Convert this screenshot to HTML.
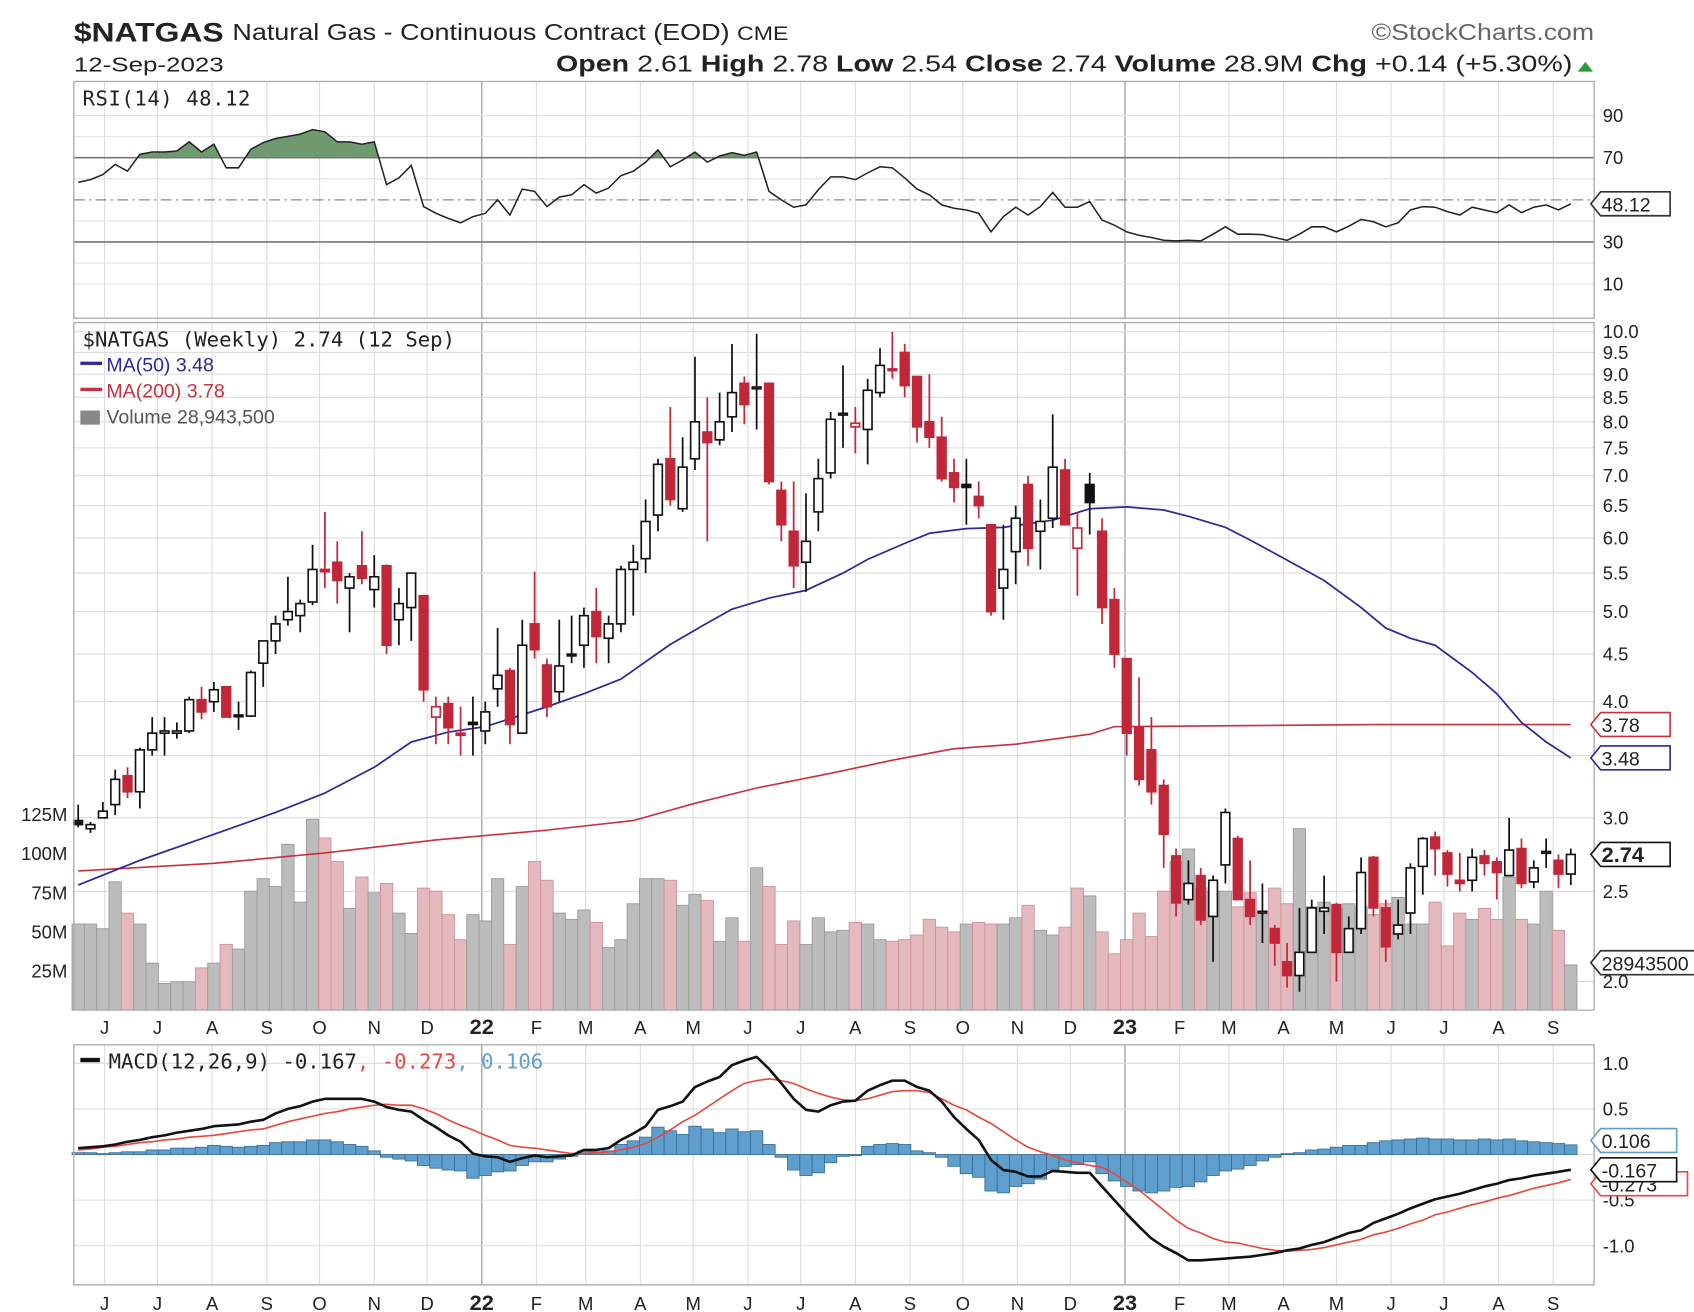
<!DOCTYPE html>
<html><head><meta charset="utf-8"><title>$NATGAS chart</title>
<style>
html,body{margin:0;padding:0;background:#fff;}
svg{display:block;font-family:"Liberation Sans",Arial,sans-serif;}
</style></head>
<body>
<svg id="chart" width="1694" height="1312" viewBox="0 0 1560 1208" preserveAspectRatio="none" xmlns="http://www.w3.org/2000/svg">
  <rect x="0" y="0" width="1560" height="1208" fill="#fff"/>
  <g>
    <text x="68" y="38" font-size="25" font-weight="bold" fill="#222" textLength="138" lengthAdjust="spacingAndGlyphs">$NATGAS</text>
    <text x="214" y="37" font-size="21" fill="#222" textLength="512" lengthAdjust="spacingAndGlyphs">Natural Gas - Continuous Contract (EOD) <tspan font-size="18">CME</tspan></text>
    <text x="1263" y="37" font-size="21" fill="#666" textLength="205" lengthAdjust="spacingAndGlyphs">©StockCharts.com</text>
    <text x="68" y="66" font-size="19" fill="#222" textLength="138" lengthAdjust="spacingAndGlyphs">12-Sep-2023</text>
    <text x="512" y="66" font-size="21" fill="#222" textLength="936" lengthAdjust="spacingAndGlyphs"><tspan font-weight="bold">Open</tspan> 2.61 <tspan font-weight="bold">High</tspan> 2.78 <tspan font-weight="bold">Low</tspan> 2.54 <tspan font-weight="bold">Close</tspan> 2.74 <tspan font-weight="bold">Volume</tspan> 28.9M <tspan font-weight="bold">Chg</tspan> +0.14 (+5.30%)</text>
    <polygon points="1453,66 1467,66 1460,57" fill="#2a9a3a"/>
  </g>
  <g id="grid"></g>
  <g id="rsiG"></g>
  <g id="volG"></g>
  <g id="maG"></g>
  <g id="candleG"></g>
  <g id="macdG"></g>
  <g id="frames"></g>
  <g id="labels"></g>
</svg>
<script>
// ---------- data ----------
const opens=[2.98,2.92,3.0,3.1,3.33,3.2,3.55,3.7,3.7,3.72,4.02,4.0,4.15,3.87,3.86,4.4,4.65,4.9,4.95,5.12,5.55,5.65,5.3,5.6,5.28,5.6,4.9,5.05,5.2,3.85,3.98,3.7,3.8,3.72,
4.13,4.32,3.7,4.85,4.38,4.1,4.5,4.6,5.0,4.68,4.85,5.55,5.7,6.35,7.3,6.45,7.3,7.8,7.65,8.1,8.8,8.7,8.8,6.75,6.1,5.65,6.4,7.05,8.15,7.9,7.85,8.6,
9.12,9.5,8.95,8.0,7.7,7.05,6.85,6.65,6.2,5.3,5.8,6.85,6.1,6.3,7.1,5.85,6.85,6.1,5.15,4.45,3.75,3.55,3.25,2.73,2.45,2.6,2.35,2.67,2.85,2.45,2.38,2.28,2.1,
2.03,2.15,2.38,2.42,2.15,2.28,2.72,2.4,2.25,2.37,2.66,2.86,2.75,2.57,2.57,2.73,2.69,2.6,2.78,2.56,2.75,2.7,2.61];
const highs=[3.1,2.97,3.12,3.38,3.4,3.57,3.85,3.85,3.8,4.05,4.15,4.2,4.15,4.0,4.32,4.65,4.95,5.45,5.15,5.9,6.4,5.95,5.5,6.1,5.75,5.62,5.3,5.5,5.2,4.05,4.05,3.95,4.05,4.0,
4.8,4.35,4.9,5.52,4.45,4.9,4.95,5.05,5.3,4.95,5.6,5.9,6.6,7.3,8.3,7.7,9.4,8.5,8.6,9.7,8.95,9.95,8.8,6.9,6.9,6.7,7.3,8.2,9.2,8.3,8.9,9.6,
10.0,9.7,8.95,9.0,8.1,7.3,7.3,6.9,6.2,6.2,6.5,7.0,6.6,8.15,7.3,6.4,7.05,6.3,5.3,4.45,4.25,3.85,3.3,2.78,2.7,2.65,2.6,3.07,2.87,2.7,2.55,2.3,2.2,
2.4,2.45,2.6,2.43,2.35,2.72,2.73,2.45,2.45,2.68,2.86,2.9,2.77,2.75,2.78,2.77,2.72,3.0,2.85,2.7,2.85,2.74,2.78];
const lows=[2.93,2.89,3.0,3.02,3.15,3.07,3.5,3.5,3.65,3.7,3.83,3.9,3.85,3.73,3.85,4.15,4.5,4.83,4.75,5.08,5.3,5.1,4.75,5.35,5.05,4.5,4.6,4.65,4.0,3.6,3.6,3.5,3.5,3.6,
3.95,3.6,3.7,4.45,3.85,4.0,4.4,4.35,4.4,4.4,4.75,4.95,5.5,6.1,6.5,6.4,7.1,5.95,7.55,7.8,7.95,7.85,6.85,5.95,5.3,5.25,6.1,6.95,7.5,7.4,7.2,8.5,
8.9,8.5,7.6,7.5,6.9,6.55,6.2,6.3,4.95,4.9,5.35,5.6,5.55,6.15,6.2,5.2,6.05,4.85,4.35,3.5,3.25,3.1,2.65,2.35,2.42,2.3,2.1,2.55,2.45,2.3,2.2,2.08,1.97,
1.95,2.15,2.25,2.0,2.15,2.25,2.35,2.1,2.22,2.25,2.48,2.6,2.53,2.5,2.5,2.6,2.45,2.6,2.52,2.52,2.65,2.52,2.54];
const closes=[2.95,2.95,3.05,3.3,3.2,3.55,3.7,3.72,3.72,4.02,3.9,4.12,3.85,3.86,4.3,4.65,4.85,5.0,5.1,5.55,5.52,5.4,5.45,5.43,5.45,4.6,5.1,5.5,4.12,3.95,3.75,3.68,3.78,3.9,
4.27,3.78,4.6,4.55,3.95,4.37,4.48,4.95,4.7,4.85,5.55,5.65,6.25,7.2,6.6,7.15,8.0,7.6,8.0,8.6,8.35,8.72,6.9,6.2,5.6,5.95,6.95,8.05,8.17,7.97,8.65,9.2,
9.1,8.75,7.9,7.7,6.95,6.8,6.8,6.5,5.0,5.55,6.3,5.85,6.25,7.15,6.2,6.15,6.55,5.05,4.5,3.7,3.3,3.2,2.88,2.43,2.55,2.33,2.57,3.04,2.45,2.35,2.38,2.2,2.03,
2.15,2.4,2.4,2.15,2.28,2.62,2.4,2.18,2.3,2.65,2.85,2.78,2.61,2.55,2.72,2.68,2.62,2.77,2.55,2.65,2.76,2.61,2.74];
const volumes=[55,55,52,82,62,55,30,17,18,18,27,30,42,39,76,84,79,106,69,122,110,95,65,85,75,81,62,49,78,76,61,45,61,57,
84,42,79,95,83,62,58,64,56,40,45,68,84,84,83,67,74,70,44,59,44,91,79,42,57,42,59,50,51,56,55,45,
44,45,48,58,53,50,55,56,55,55,59,67,51,48,53,78,73,50,36,45,62,47,76,95,103,78,76,76,66,75,61,78,68,
116,66,69,65,68,66,61,68,72,55,55,69,41,62,58,65,58,85,58,55,76,51,28.9];
const ma50Idx=[0,5,11,16,20,24,27,30,33,38,41,44,48,51,53,56,59,62,64,67,69,72,75,79,82,85,88,90,93,95,98,101,104,106,108,110,113,115,117,119,121];
const ma50Vals=[2.54,2.7,2.88,3.04,3.19,3.4,3.62,3.71,3.76,3.95,4.08,4.23,4.61,4.86,5.03,5.17,5.27,5.5,5.69,5.92,6.07,6.14,6.16,6.27,6.45,6.48,6.43,6.33,6.16,5.97,5.68,5.4,5.05,4.8,4.68,4.6,4.3,4.08,3.8,3.62,3.48];
const ma200Idx=[0,11,20,29,38,45,50,55,61,66,71,76,82,84,95,105,121];
const ma200Vals=[2.63,2.68,2.75,2.84,2.91,2.98,3.11,3.23,3.35,3.46,3.56,3.6,3.69,3.76,3.77,3.78,3.78];
const rsiVals=[58.3,59.6,62,66.8,63.6,71.6,72.7,72.7,73.2,77.5,72.7,76.4,65.2,65.2,74,77.2,79.1,80.1,81.2,83.3,82.3,77.5,77.5,76.4,77.5,57.2,60.4,66.3,46.8,43.6,41.2,39.1,42,43.6,50,42.8,55.1,54,46.8,51.3,52.4,57.2,53.2,55.6,61.5,63.6,67.9,73.7,65.7,68.9,72.7,67.9,70.8,72.4,71.1,72.7,54,50,46.5,47.6,54.8,60.9,60.9,59.6,62.8,
65.7,65.2,60.4,55.1,52.4,47.6,46,45.2,43.6,34.8,42,46.5,42.8,46.8,53.5,46.5,46.5,49.2,40.4,38,34.8,33.2,32.1,30.8,30.5,30.8,30.5,33.7,37.2,33.7,33.7,33.5,32.1,30.8,33.7,37.2,37.2,34.8,37.5,40.7,39.6,37.2,39.1,45.2,46.8,46.5,44.4,42.8,46.5,45.2,43.9,47.6,43.9,46.5,47.6,45.2,48.12];
const macdVals=[.07,.08,.09,.11,.14,.16,.19,.21,.24,.26,.28,.31,.32,.33,.36,.38,.45,.50,.53,.58,.61,.61,.61,.61,.58,.52,.49,.47,.38,.30,.21,.14,.01,-.02,-.03,-.08,-.04,-.01,-.03,-.02,-.01,.05,.05,.07,.16,.23,.31,.49,.53,.58,.74,.80,.85,.98,1.03,1.07,.94,.78,.61,.49,.47,.54,.58,.59,.70,
.76,.81,.81,.74,.70,.58,.41,.28,.16,-.06,-.17,-.19,-.24,-.24,-.18,-.19,-.20,-.20,-.35,-.50,-.65,-.79,-.92,-1.01,-1.08,-1.16,-1.16,-1.15,-1.14,-1.13,-1.12,-1.10,-1.08,-1.05,-1.03,-.99,-.96,-.91,-.86,-.83,-.75,-.70,-.65,-.59,-.54,-.49,-.46,-.43,-.39,-.35,-.32,-.28,-.26,-.23,-.21,-.19,-.167];
const signalVals=[.05,.06,.08,.09,.11,.13,.14,.16,.17,.19,.20,.21,.23,.25,.27,.28,.32,.36,.39,.42,.45,.47,.50,.52,.54,.55,.54,.54,.50,.45,.38,.32,.27,.21,.16,.10,.08,.07,.05,.03,.01,.01,.02,.03,.05,.08,.12,.19,.27,.36,.43,.52,.61,.70,.78,.81,.83,.81,.78,.72,.67,.63,.60,.59,.61,
.65,.69,.70,.70,.68,.61,.54,.49,.41,.34,.25,.16,.08,.03,-.01,-.06,-.09,-.12,-.14,-.21,-.30,-.39,-.50,-.61,-.72,-.81,-.86,-.92,-.96,-.97,-1.00,-1.03,-1.05,-1.06,-1.05,-1.04,-1.02,-.99,-.96,-.93,-.88,-.85,-.81,-.76,-.72,-.66,-.63,-.59,-.55,-.52,-.48,-.45,-.41,-.37,-.34,-.31,-.273];
const monthLabels=["J","J","A","S","O","N","D","22","F","M","A","M","J","J","A","S","O","N","D","23","F","M","A","M","J","J","A","S"];
const monthYears=[2021,2021,2021,2021,2021,2021,2021,2022,2022,2022,2022,2022,2022,2022,2022,2022,2022,2022,2022,2023,2023,2023,2023,2023,2023,2023,2023,2023];
const monthNums=[5,6,7,8,9,10,11,0,1,2,3,4,5,6,7,8,9,10,11,0,1,2,3,4,5,6,7,8];
const priceTicks=[2.0,2.5,3.0,4.0,4.5,5.0,5.5,6.0,6.5,7.0,7.5,8.0,8.5,9.0,9.5,10.0];
const priceGrid=[2.0,2.5,3.0,3.5,4.0,4.5,5.0,5.5,6.0,6.5,7.0,7.5,8.0,8.5,9.0,9.5,10.0];
const volTicks=[25,50,75,100,125];
const rsiTicks=[10,30,70,90];
const macdTicks=[1.0,0.5,-0.5,-1.0];

// ---------- geometry ----------
const NS="http://www.w3.org/2000/svg";
const L=68,R=1468;
const P_TOP=297,P_BOT=930,R_TOP=75,R_BOT=293,M_TOP=962,M_BOT=1183;
const X0=72,STEP=11.36;
const START=Date.UTC(2021,4,17);
function xOf(i){return X0+i*STEP;}
function xDate(y,m){return X0+(Date.UTC(y,m,1)-START)/(7*864e5)*STEP;}
function yP(p){return 753-(Math.log10(p)-Math.log10(3))*856;}
function yV(v){return P_BOT-v*1.44;}
function yR(r){return 184-(r-50)*1.94;}
function yM(m){return 1063-m*84;}
function mk(tag,attrs,parent){const e=document.createElementNS(NS,tag);for(const k in attrs)e.setAttribute(k,attrs[k]);if(parent)parent.appendChild(e);return e;}

const grid=document.getElementById('grid');
monthLabels.forEach((lab,k)=>{
  const x=xDate(monthYears[k],monthNums[k]);
  const yr=monthNums[k]===0;
  [[R_TOP,R_BOT],[P_TOP,P_BOT],[M_TOP,M_BOT]].forEach(([a,b])=>{
    const ln=mk('line',{x1:x,x2:x,y1:a,y2:b,stroke:yr?'#a8a8a8':'#dcdcdc','stroke-width':yr?1.3:1},grid);
    
    
  });
  [952,1206].forEach(yy=>{
    const t=mk('text',{x:x,y:yy,'font-size':yr?20:17,'font-weight':yr?'bold':'normal','text-anchor':'middle',fill:'#222'},grid);
    t.textContent=lab;
    
    
  });
});
priceGrid.forEach(p=>{
  const ln=mk('line',{x1:L,x2:R,y1:yP(p),y2:yP(p),stroke:'#dcdcdc','stroke-width':1},grid);
  
  
});
for(let r=10;r<=90;r+=10){
  if(r===30||r===70||r===50)continue;
  const ln=mk('line',{x1:L,x2:R,y1:yR(r),y2:yR(r),stroke:'#e2e2e2','stroke-width':1},grid);
  
  
}
[1.0,0.5,0,-0.5,-1.0].forEach(m=>{
  const ln=mk('line',{x1:L,x2:R,y1:yM(m),y2:yM(m),stroke:'#dcdcdc','stroke-width':1},grid);
  
  
});

// ---------- RSI ----------
const rsiG=document.getElementById('rsiG');
const defs=mk('defs',{},rsiG);
const cp=mk('clipPath',{id:'above70'},defs);
mk('rect',{x:L,y:R_TOP,width:R-L,height:yR(70)-R_TOP},cp);
let rp=rsiVals.map((v,i)=>xOf(i)+','+yR(v)).join(' ');
const fillPoly=mk('polygon',{points:xOf(0)+','+yR(70)+' '+rp+' '+xOf(rsiVals.length-1)+','+yR(70),fill:'#6f9a6f','clip-path':'url(#above70)'},rsiG);


[[70,'#777','',1.5],[30,'#777','',1.5],[50,'#888','10,4,2,4',1.2]].forEach(([v,c,d,w])=>{
  const ln=mk('line',{x1:L,x2:R,y1:yR(v),y2:yR(v),stroke:c,'stroke-width':w},rsiG);
  if(d)ln.setAttribute('stroke-dasharray',d);
  
  
});
const rsiLine=mk('polyline',{points:rp,fill:'none',stroke:'#222','stroke-width':1.4},rsiG);



// ---------- Volume ----------
const volG=document.getElementById('volG');
volumes.forEach((v,i)=>{
  const down=i>0&&closes[i]<closes[i-1];
  const y=yV(v);
  const b=mk('rect',{x:xOf(i)-STEP/2,y:y,width:STEP,height:P_BOT-y,fill:down?'#e3b9be':'#bcbcbc',stroke:down?'#cf8f97':'#999','stroke-width':0.8},volG);
  
  
});

// ---------- Moving averages ----------
const maG=document.getElementById('maG');
const ma200=mk('polyline',{points:ma200Idx.map((k,j)=>xOf(k)+','+yP(ma200Vals[j])).join(' '),fill:'none',stroke:'#c8303c','stroke-width':1.5,'stroke-linejoin':'round'},maG);


const ma50=mk('polyline',{points:ma50Idx.map((k,j)=>xOf(k)+','+yP(ma50Vals[j])).join(' '),fill:'none',stroke:'#2a2a9a','stroke-width':1.6,'stroke-linejoin':'round'},maG);



// ---------- Candles ----------
const cg=document.getElementById('candleG');
closes.forEach((c,i)=>{
  const o=opens[i],h=highs[i],l=lows[i];
  const down=i>0&&c<closes[i-1];
  const col=down?'#c0283a':'#111';
  const x=xOf(i);
  const g=mk('g',{},cg);
  
  
  mk('line',{x1:x,x2:x,y1:yP(h),y2:yP(l),stroke:col,'stroke-width':1.6},g);
  const top=yP(Math.max(o,c)),bot=yP(Math.min(o,c));
  const hgt=Math.max(bot-top,1.6);
  const hollow=c>=o;
  mk('rect',{x:x-4,y:top,width:8,height:hgt,fill:hollow?'#fff':col,stroke:col,'stroke-width':1.5},g);
});

// ---------- MACD ----------
const macdG=document.getElementById('macdG');
macdVals.forEach((m,i)=>{
  const h=m-signalVals[i];
  const y0=yM(0),y1=yM(h);
  const b=mk('rect',{x:xOf(i)-STEP/2,y:Math.min(y0,y1),width:STEP,height:Math.max(Math.abs(y1-y0),1),fill:'#5f9fcd',stroke:'#3a6f96','stroke-width':0.8},macdG);
  
  
});
const sig=mk('polyline',{points:signalVals.map((v,i)=>xOf(i)+','+yM(v)).join(' '),fill:'none',stroke:'#e8473c','stroke-width':1.5},macdG);


const mcl=mk('polyline',{points:macdVals.map((v,i)=>xOf(i)+','+yM(v)).join(' '),fill:'none',stroke:'#111','stroke-width':2.4,'stroke-linejoin':'round'},macdG);



// ---------- frames ----------
const fr=document.getElementById('frames');
[[R_TOP,R_BOT,'rsi-panel'],[P_TOP,P_BOT,'price-panel'],[M_TOP,M_BOT,'macd-panel']].forEach(([a,b,n])=>{
  const r=mk('rect',{x:L,y:a,width:R-L,height:b-a,fill:'none',stroke:'#aaa','stroke-width':1.2},fr);
  
  
});

// ---------- labels / axes ----------
const lb=document.getElementById('labels');
function txt(x,y,s,attrs,name){const t=mk('text',Object.assign({x:x,y:y,'font-size':17,fill:'#222'},attrs||{}),lb);t.textContent=s;return t;}
priceTicks.forEach(p=>txt(1476,yP(p)+6,p.toFixed(1),{},'price-axis-label'));
volTicks.forEach(v=>txt(62,yV(v)+6,v+'M',{'text-anchor':'end'},'volume-axis-label'));
rsiTicks.forEach(r=>txt(1476,yR(r)+6,String(r),{},'rsi-axis-label'));
macdTicks.forEach(m=>txt(1476,yM(m)+6,m.toFixed(1),{},'macd-axis-label'));

function tag(y,s,col,bold,name,w){
  w=w||64;
  const g=mk('g',{},lb);
  
  
  mk('polygon',{points:`1465,${y} 1474,${y-11} ${1474+w},${y-11} ${1474+w},${y+11} 1474,${y+11}`,fill:'#fff',stroke:col,'stroke-width':1.5},g);
  const t=mk('text',{x:1475,y:y+7,'font-size':bold?20:18,'font-weight':bold?'bold':'normal',fill:'#222'},g);
  t.textContent=s;
}
tag(yR(48.12),'48.12','#333',false,'rsi-value-tag');
tag(yP(3.78),'3.78','#c8303c',false,'ma200-value-tag');
tag(yP(3.48),'3.48','#2a2a9a',false,'ma50-value-tag');
tag(yP(2.74),'2.74','#111',true,'close-value-tag');
tag(yV(28.9)-2,'28943500','#333',false,'volume-value-tag',90);
tag(yM(-0.273)+4,'-0.273','#e8473c',false,'signal-value-tag',80);
tag(yM(0.106)-4,'0.106','#5f9fcd',false,'histogram-value-tag',70);
tag(yM(-0.167),'-0.167','#111',false,'macd-value-tag',70);

txt(76,97,'RSI(14) 48.12',{'font-size':19,'font-family':'"DejaVu Sans Mono","Liberation Mono",monospace','letter-spacing':'0.5'},'rsi-legend');
txt(76,319,'$NATGAS (Weekly) 2.74 (12 Sep)',{'font-size':19,'font-family':'"DejaVu Sans Mono","Liberation Mono",monospace'},'price-legend');
const l1=mk('rect',{x:74,y:333,width:20,height:3,fill:'#2a2a9a'},lb);

txt(98,342,'MA(50) 3.48',{'font-size':18,fill:'#2a2a9a'},'ma50-legend');
const l2=mk('rect',{x:74,y:357,width:20,height:3,fill:'#c8303c'},lb);

txt(98,366,'MA(200) 3.78',{'font-size':18,fill:'#c8303c'},'ma200-legend');
txt(98,390,'Volume 28,943,500',{'font-size':18,fill:'#555'},'volume-legend');
const l3=mk('rect',{x:74,y:378,width:18,height:13,fill:'#888'},lb);

const l4=mk('rect',{x:74,y:974,width:18,height:4,fill:'#111'},lb);

const mt=txt(100,984,'',{'font-size':19,'font-family':'"DejaVu Sans Mono","Liberation Mono",monospace'},'macd-legend');
mt.innerHTML='MACD(12,26,9) -0.167<tspan fill="#e8473c">, -0.273</tspan><tspan fill="#5f9fcd">, 0.106</tspan>';
</script>
</body></html>
